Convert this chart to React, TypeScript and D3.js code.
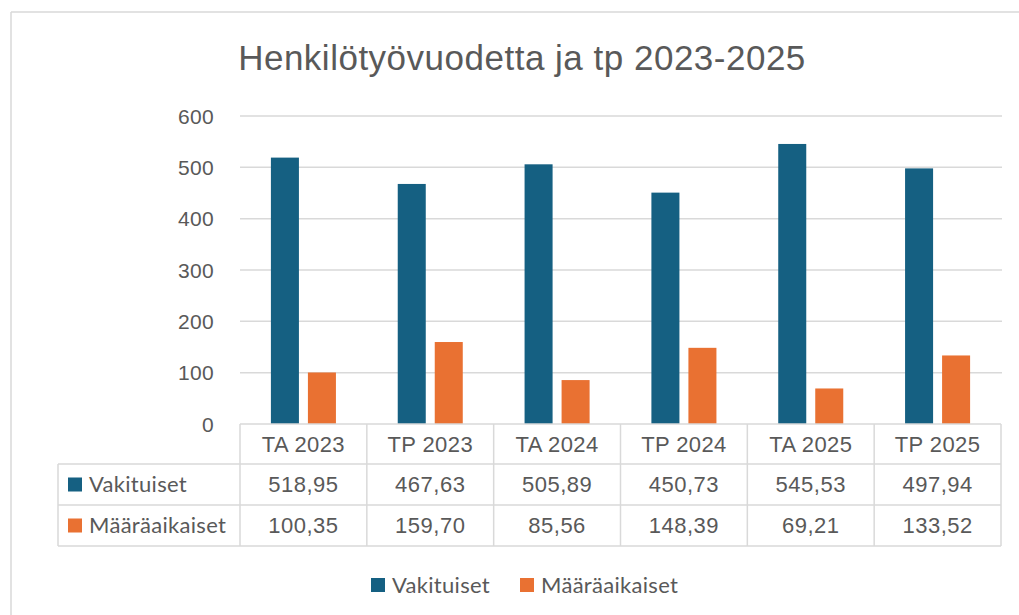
import React from "react";
import * as d3 from "d3";

const categories = ["TA 2023", "TP 2023", "TA 2024", "TP 2024", "TA 2025", "TP 2025"];
const vakituiset = [518.95, 467.63, 505.89, 450.73, 545.53, 497.94];
const maaraaikaiset = [100.35, 159.7, 85.56, 148.39, 69.21, 133.52];
const seriesNames = ["Vakituiset", "Määräaikaiset"];
const seriesColors = ["#156082", "#E97132"];
const yTicks = [0, 100, 200, 300, 400, 500, 600];
const title = "Henkilötyövuodetta ja tp 2023-2025";

const W = 1019;
const H = 615;
const TXT = "#595959";
const GRID = "#d9d9d9";
const NUM_FONT = "'Liberation Sans', Arial, sans-serif";
const LBL_FONT = "Lato, 'Liberation Sans', sans-serif";

const fiLocale = d3.formatLocale({ decimal: ",", thousands: " ", grouping: [3], currency: ["", " €"] });
const fmt = fiLocale.format(".2f");

export default function App() {
  const x = d3.scaleBand<string>().domain(categories).range([240, 1001]).paddingInner(0).paddingOuter(0);
  const inner = d3.scaleBand<string>().domain(seriesNames).range([0, x.bandwidth()]).paddingInner(0.243).paddingOuter(0.835);
  const y = d3.scaleLinear().domain([0, 600]).range([424, 116]);
  const series = [vakituiset, maaraaikaiset];

  const tableLeft = 58;
  const tableRight = 1001;
  const rowTops = [424, 464, 505, 546];

  return (
    <div style={{ position: "fixed", left: 0, top: 0 }}>
      <svg width={W} height={H} style={{ display: "block", background: "#fff" }}>
        {/* chart frame */}
        <line x1={11} y1={12} x2={W} y2={12} stroke={GRID} strokeWidth={1.5} />
        <line x1={11} y1={12} x2={11} y2={H} stroke={GRID} strokeWidth={1.5} />

        <text x={522} y={70} textAnchor="middle" fontFamily={NUM_FONT} fontSize={35} letterSpacing={0.5} fill={TXT}>
          {title}
        </text>

        {/* grid + y axis */}
        {yTicks.map((t) => (
          <g key={t}>
            {t > 0 && (
              <line x1={240} x2={1002} y1={y(t)} y2={y(t)} stroke={GRID} strokeWidth={1.5} />
            )}
            <text x={214} y={y(t)} dy="0.36em" textAnchor="end" fontFamily={NUM_FONT} fontSize={21} letterSpacing={0.3} fill={TXT}>
              {t}
            </text>
          </g>
        ))}

        {/* bars */}
        {series.map((vals, si) =>
          vals.map((v, i) => (
            <rect
              key={`${si}-${i}`}
              x={(x(categories[i]) as number) + (inner(seriesNames[si]) as number)}
              y={y(v)}
              width={inner.bandwidth()}
              height={y(0) - y(v)}
              fill={seriesColors[si]}
            />
          ))
        )}

        {/* data table */}
        <line x1={240} x2={tableRight} y1={rowTops[0]} y2={rowTops[0]} stroke={GRID} strokeWidth={1.5} />
        {rowTops.slice(1).map((r) => (
          <line key={r} x1={tableLeft} x2={tableRight} y1={r} y2={r} stroke={GRID} strokeWidth={1.5} />
        ))}
        <line x1={tableLeft} x2={tableLeft} y1={rowTops[1]} y2={rowTops[3]} stroke={GRID} strokeWidth={1.5} />
        {[...categories.map((c) => x(c) as number), tableRight].map((cx, i) => (
          <line key={i} x1={cx} x2={cx} y1={rowTops[0]} y2={rowTops[3]} stroke={GRID} strokeWidth={1.5} />
        ))}
        {categories.map((c) => (
          <text
            key={c}
            x={(x(c) as number) + x.bandwidth() / 2}
            y={(rowTops[0] + rowTops[1]) / 2}
            dy="0.36em"
            textAnchor="middle"
            fontFamily={NUM_FONT}
            fontSize={22}
            letterSpacing={0.4}
            fill={TXT}
          >
            {c}
          </text>
        ))}
        {series.map((vals, si) => {
          const cy = (rowTops[si + 1] + rowTops[si + 2]) / 2;
          return (
            <g key={si}>
              <rect x={68} y={cy - 7} width={14} height={14} fill={seriesColors[si]} />
              <text x={89} y={cy} dy="0.36em" fontFamily={LBL_FONT} fontSize={22} letterSpacing={0.3} fill={TXT}>
                {seriesNames[si]}
              </text>
              {vals.map((v, i) => (
                <text
                  key={i}
                  x={(x(categories[i]) as number) + x.bandwidth() / 2}
                  y={cy}
                  dy="0.36em"
                  textAnchor="middle"
                  fontFamily={NUM_FONT}
                  fontSize={22}
                  letterSpacing={0.5}
                  fill={TXT}
                >
                  {fmt(v)}
                </text>
              ))}
            </g>
          );
        })}

        {/* legend */}
        {seriesNames.map((n, si) => {
          const lx = si === 0 ? 371 : 520;
          return (
            <g key={n}>
              <rect x={lx} y={578} width={14} height={14} fill={seriesColors[si]} />
              <text x={lx + 21} y={585} dy="0.36em" fontFamily={LBL_FONT} fontSize={22} letterSpacing={0.3} fill={TXT}>
                {n}
              </text>
            </g>
          );
        })}
      </svg>
    </div>
  );
}
